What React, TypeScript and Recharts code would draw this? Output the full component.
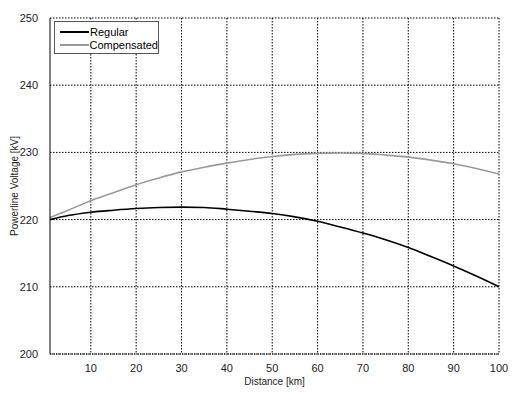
import { CartesianGrid, Legend, Line, LineChart, XAxis, YAxis } from "recharts";

const distance = [1, 5, 10, 15, 20, 25, 30, 35, 40, 45, 50, 55, 60, 65, 70, 75, 80, 85, 90, 95, 100];
const regular = [
  220.0, 220.6, 221.1, 221.4, 221.65, 221.8, 221.85, 221.8, 221.55, 221.25, 220.9,
  220.4, 219.75, 218.9, 218.0, 217.0, 215.85, 214.5, 213.1, 211.6, 210.0,
];
const compensated = [
  220.3, 221.4, 222.8, 224.0, 225.2, 226.2, 227.1, 227.8, 228.4, 228.95, 229.4,
  229.7, 229.85, 229.9, 229.85, 229.6, 229.3, 228.85, 228.3, 227.6, 226.8,
];
const xTicks = [10, 20, 30, 40, 50, 60, 70, 80, 90, 100];
const yTicks = [200, 210, 220, 230, 240, 250];

const SERIES = [
  { key: "Regular", color: "#000000", width: 1.6 },
  { key: "Compensated", color: "#9a9a9a", width: 1.6 },
];

const rows = distance.map((d, i) => ({
  d,
  Regular: regular[i],
  Compensated: compensated[i],
}));

const FONT = "'Liberation Sans', Arial, sans-serif";

function LegendBox() {
  return (
    <div
      style={{
        border: "1px solid #555",
        background: "#fff",
        width: 105,
        height: 33,
        fontFamily: FONT,
        fontSize: 11,
        color: "#000",
        boxSizing: "border-box",
        paddingTop: 3,
      }}
    >
      {SERIES.map((s) => (
        <div key={s.key} style={{ display: "flex", alignItems: "center", height: 13 }}>
          <span
            style={{
              display: "inline-block",
              width: 29,
              marginLeft: 5,
              height: 0,
              borderTop: `2px solid ${s.color}`,
            }}
          />
          <span style={{ marginLeft: 1 }}>{s.key}</span>
        </div>
      ))}
    </div>
  );
}

export default function App() {
  return (
    <div style={{ position: "absolute", left: 0, top: 0, width: 525, height: 393, background: "#fff" }}>
      <LineChart
        width={525}
        height={393}
        data={rows}
        margin={{ top: 18, right: 26, left: 0, bottom: 0 }}
      >
        <CartesianGrid stroke="#000" strokeDasharray="1.5 1.5" horizontalValues={yTicks} verticalValues={xTicks} />
        <XAxis
          dataKey="d"
          type="number"
          domain={[1, 100]}
          ticks={xTicks}
          height={39}
          tickLine={false}
          axisLine={{ stroke: "#000", strokeDasharray: "1 1" }}
          tick={{ fill: "#222", fontSize: 11, fontFamily: FONT }}
          tickMargin={4}
          label={{
            value: "Distance [km]",
            position: "insideBottom",
            offset: 8,
            style: { fill: "#222", fontSize: 10, fontFamily: FONT },
          }}
        />
        <YAxis
          type="number"
          domain={[200, 250]}
          ticks={yTicks}
          width={50}
          tickLine={false}
          axisLine={{ stroke: "#000" }}
          tick={{ fill: "#222", fontSize: 11, fontFamily: FONT }}
          tickMargin={6}
          label={{
            value: "Powerline Voltage [kV]",
            angle: -90,
            position: "insideLeft",
            offset: 14,
            style: { fill: "#222", fontSize: 10, fontFamily: FONT, textAnchor: "middle" },
          }}
        />
        <Legend
          layout="horizontal"
          verticalAlign="middle"
          align="center"
          content={() => <LegendBox />}
          wrapperStyle={{ top: 21, left: 54, width: 105 }}
        />
        {SERIES.map((s) => (
          <Line
            key={s.key}
            type="monotone"
            dataKey={s.key}
            stroke={s.color}
            strokeWidth={s.width}
            dot={false}
            isAnimationActive={false}
          />
        ))}
      </LineChart>
    </div>
  );
}
